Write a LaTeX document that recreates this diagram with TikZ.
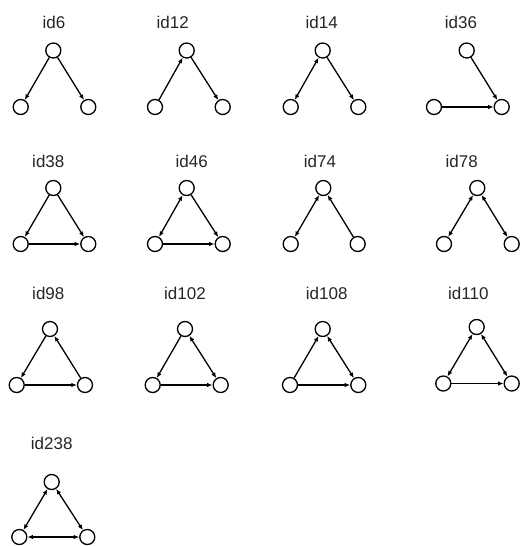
\documentclass[tikz,border=0pt]{standalone}
\usepackage{fontspec}
\setmainfont{Liberation Sans}
\usetikzlibrary{arrows.meta}
\tikzset{
  vtx/.style={circle,draw,line width=1.3pt,minimum size=15pt,inner sep=0pt},
  lbl/.style={font=\fontsize{17}{20}\selectfont,text=black!85,inner sep=0pt},
  edg/.style={line width=1.3pt,-{Latex[length=5.5pt,width=4.5pt]}},
  bi/.style={line width=1.3pt,{Latex[length=5.5pt,width=4.5pt]}-{Latex[length=5.5pt,width=4.5pt]}}
}
\begin{document}
\begin{tikzpicture}[x=1pt,y=-1pt]
\useasboundingbox (0,0) rectangle (520,546);
% Row 1
\node[lbl] (lab6) at (54,22) {id6};
\node[vtx] (t6) at (53.3,50.5) {};
\node[vtx] (l6) at (20.7,107) {};
\node[vtx] (r6) at (88.3,107) {};
\draw[edg] (t6) -- (l6);
\draw[edg] (t6) -- (r6);

\node[lbl] (lab12) at (172.7,22) {id12};
\node[vtx] (t12) at (186.7,50.5) {};
\node[vtx] (l12) at (155,107) {};
\node[vtx] (r12) at (222.7,107) {};
\draw[edg] (l12) -- (t12);
\draw[edg] (t12) -- (r12);

\node[lbl] (lab14) at (321.7,22) {id14};
\node[vtx] (t14) at (322.7,50.5) {};
\node[vtx] (l14) at (290.7,107) {};
\node[vtx] (r14) at (358.3,107) {};
\draw[bi] (t14) -- (l14);
\draw[edg] (t14) -- (r14);

\node[lbl] (lab36) at (461,22) {id36};
\node[vtx] (t36) at (466.7,50.5) {};
\node[vtx] (l36) at (434,107) {};
\node[vtx] (r36) at (501.7,107) {};
\draw[edg] (t36) -- (r36);
\draw[edg] (l36) -- (r36);

% Row 2
\node[lbl] (lab38) at (48.3,161.5) {id38};
\node[vtx] (t38) at (53.3,188) {};
\node[vtx] (l38) at (20.7,244) {};
\node[vtx] (r38) at (88.3,244) {};
\draw[edg] (t38) -- (l38);
\draw[edg] (t38) -- (r38);
\draw[edg] (l38) -- (r38);

\node[lbl] (lab46) at (191.7,161.5) {id46};
\node[vtx] (t46) at (186.7,188) {};
\node[vtx] (l46) at (155,244) {};
\node[vtx] (r46) at (222.7,244) {};
\draw[bi] (t46) -- (l46);
\draw[edg] (t46) -- (r46);
\draw[edg] (l46) -- (r46);

\node[lbl] (lab74) at (320,161.5) {id74};
\node[vtx] (t74) at (323.3,188) {};
\node[vtx] (l74) at (290.7,244) {};
\node[vtx] (r74) at (357.7,244) {};
\draw[bi] (t74) -- (l74);
\draw[edg] (r74) -- (t74);

\node[lbl] (lab78) at (461.7,161.5) {id78};
\node[vtx] (t78) at (477.3,188) {};
\node[vtx] (l78) at (444,244) {};
\node[vtx] (r78) at (511.7,244) {};
\draw[bi] (t78) -- (l78);
\draw[bi] (t78) -- (r78);

% Row 3
\node[lbl] (lab98) at (48.3,293.5) {id98};
\node[vtx] (t98) at (50,329) {};
\node[vtx] (l98) at (16.7,385) {};
\node[vtx] (r98) at (85,385) {};
\draw[edg] (t98) -- (l98);
\draw[edg] (r98) -- (t98);
\draw[edg] (l98) -- (r98);

\node[lbl] (lab102) at (185,293.5) {id102};
\node[vtx] (t102) at (185,329) {};
\node[vtx] (l102) at (152.7,385) {};
\node[vtx] (r102) at (220.7,385) {};
\draw[edg] (t102) -- (l102);
\draw[bi] (t102) -- (r102);
\draw[edg] (l102) -- (r102);

\node[lbl] (lab108) at (326.7,293.5) {id108};
\node[vtx] (t108) at (322.7,329) {};
\node[vtx] (l108) at (290,385) {};
\node[vtx] (r108) at (358.3,385) {};
\draw[edg] (l108) -- (t108);
\draw[bi] (t108) -- (r108);
\draw[edg] (l108) -- (r108);

\node[lbl] (lab110) at (468.3,293.5) {id110};
\node[vtx] (t110) at (476.7,327) {};
\node[vtx] (l110) at (443.3,383.5) {};
\node[vtx] (r110) at (511.7,383.5) {};
\draw[bi] (t110) -- (l110);
\draw[bi] (t110) -- (r110);
\draw[edg] (l110) -- (r110);

% Row 4
\node[lbl] (lab238) at (51.7,443) {id238};
\node[vtx] (t238) at (51.7,482) {};
\node[vtx] (l238) at (19.3,537) {};
\node[vtx] (r238) at (87.3,537) {};
\draw[bi] (t238) -- (l238);
\draw[bi] (t238) -- (r238);
\draw[bi] (l238) -- (r238);
\end{tikzpicture}
\end{document}
